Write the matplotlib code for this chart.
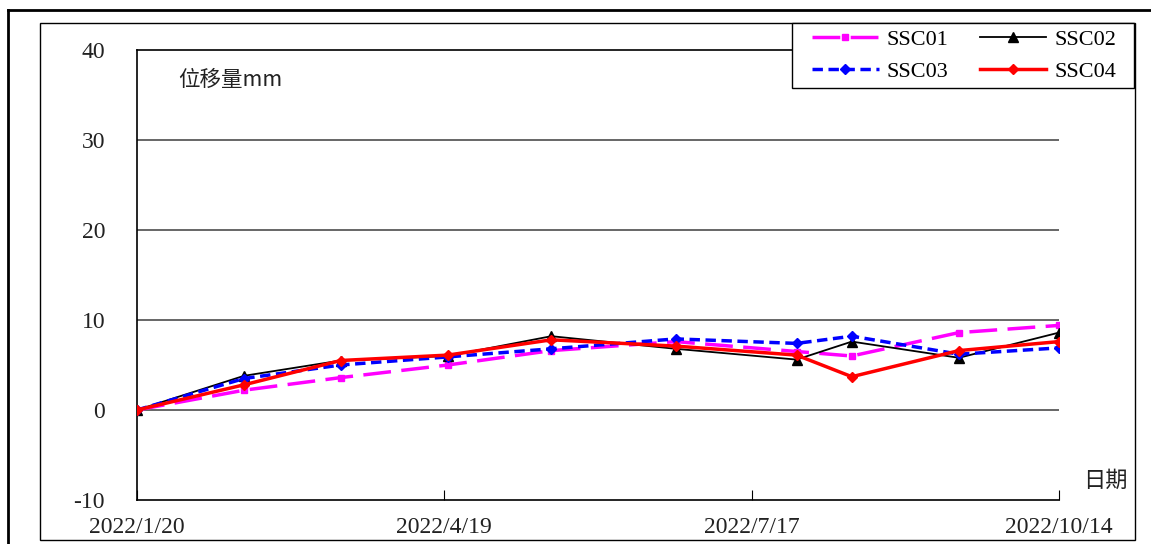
import matplotlib
matplotlib.use("Agg")
import matplotlib.pyplot as plt
from matplotlib.lines import Line2D
from matplotlib.patches import Rectangle
import datetime as dt

plt.rcParams["axes.unicode_minus"] = False

dates = ["2022-01-20", "2022-02-20", "2022-03-20", "2022-04-20", "2022-05-20",
         "2022-06-25", "2022-07-30", "2022-08-15", "2022-09-15", "2022-10-14"]
ssc01 = [0, 2.2, 3.6, 5.0, 6.6, 7.6, 6.5, 6.0, 8.6, 9.4]
ssc02 = [0, 3.8, 5.5, 6.0, 8.2, 6.8, 5.6, 7.6, 5.8, 8.6]
ssc03 = [0, 3.5, 5.0, 5.9, 6.8, 7.9, 7.4, 8.2, 6.2, 6.9]
ssc04 = [0, 2.8, 5.5, 6.1, 7.8, 7.1, 6.1, 3.7, 6.6, 7.6]
xtick_labels = ["2022/1/20", "2022/4/19", "2022/7/17", "2022/10/14"]
xtick_dates = ["2022-01-20", "2022-04-19", "2022-07-17", "2022-10-14"]
yticks = [-10, 0, 10, 20, 30, 40]

num_font = ["Liberation Serif", "DejaVu Serif"]
cjk_font = ["Noto Sans CJK SC", "DejaVu Sans"]

W, H = 1151, 544
fig = plt.figure(figsize=(W / 100, H / 100), dpi=100)

def fx(px):
    return px / W

def fy(py):
    return 1 - py / H

# outer decorations
fig.add_artist(Line2D([fx(8), fx(8)], [0, fy(10)], color="black", lw=2, transform=fig.transFigure))
fig.add_artist(Line2D([fx(8), 1], [fy(10), fy(10)], color="black", lw=2, transform=fig.transFigure))
fig.add_artist(Rectangle((fx(40), fy(540)), fx(1135) - fx(40), fy(23) - fy(540),
                         fill=False, edgecolor="black", lw=1, transform=fig.transFigure))

ax = fig.add_axes([fx(137), fy(500), fx(1059) - fx(137), fy(50) - fy(500)])

x = [dt.datetime.strptime(d, "%Y-%m-%d") for d in dates]
xt = [dt.datetime.strptime(d, "%Y-%m-%d") for d in xtick_dates]

l1, = ax.plot(x, ssc01, color="#FF00FF", lw=2.5, dashes=(8, 3), marker="s", ms=4, label="SSC01", zorder=3)
l2, = ax.plot(x, ssc02, color="black", lw=1.3, marker="^", ms=7, label="SSC02", zorder=4)
l3, = ax.plot(x, ssc03, color="#0000FF", lw=2.5, dashes=(3, 1.6), marker="D", ms=5, label="SSC03", zorder=5)
l4, = ax.plot(x, ssc04, color="#FF0000", lw=2.5, marker="D", ms=5, label="SSC04", zorder=6)

ax.set_xlim(xt[0], xt[-1])
ax.set_ylim(-10, 40)
ax.set_yticks(yticks)
ax.set_xticks(xt)
ax.set_xticklabels(xtick_labels)
for yv in [0, 10, 20, 30]:
    ax.axhline(yv, color="#5a5a5a", lw=1.3, zorder=1)

ax.spines["right"].set_visible(False)
for s in ["left", "bottom", "top"]:
    ax.spines[s].set_color("black")
    ax.spines[s].set_linewidth(1.2)

ax.tick_params(axis="y", length=0, pad=23, labelsize=17)
ax.tick_params(axis="x", direction="in", length=7, pad=12, labelsize=17)
for lab in ax.get_xticklabels() + ax.get_yticklabels():
    lab.set_family(num_font)
    lab.set_color("#222222")

fig.text(fx(178), fy(80), "位移量mm", family=cjk_font, fontsize=15.5, va="center", ha="left", color="#222222")
fig.text(fx(1083), fy(480), "日期", family=cjk_font, fontsize=16, va="center", ha="left", color="#222222")

# legend frame (white, covers top border of plot area)
fig.add_artist(Rectangle((fx(792), fy(88)), fx(1134) - fx(792), fy(23) - fy(88),
                         facecolor="white", edgecolor="black", lw=1, transform=fig.transFigure, zorder=5))
leg = fig.legend(handles=[l1, l3, l2, l4], ncol=2, loc="center",
                 bbox_to_anchor=(fx(964), fy(55.5)),
                 frameon=False, prop={"family": num_font, "size": 16}, handlelength=3.0,
                 labelspacing=0.5, borderpad=0.0, columnspacing=1.4, handletextpad=0.35)
leg.set_zorder(6)

fig.savefig("out.png", dpi=100)
